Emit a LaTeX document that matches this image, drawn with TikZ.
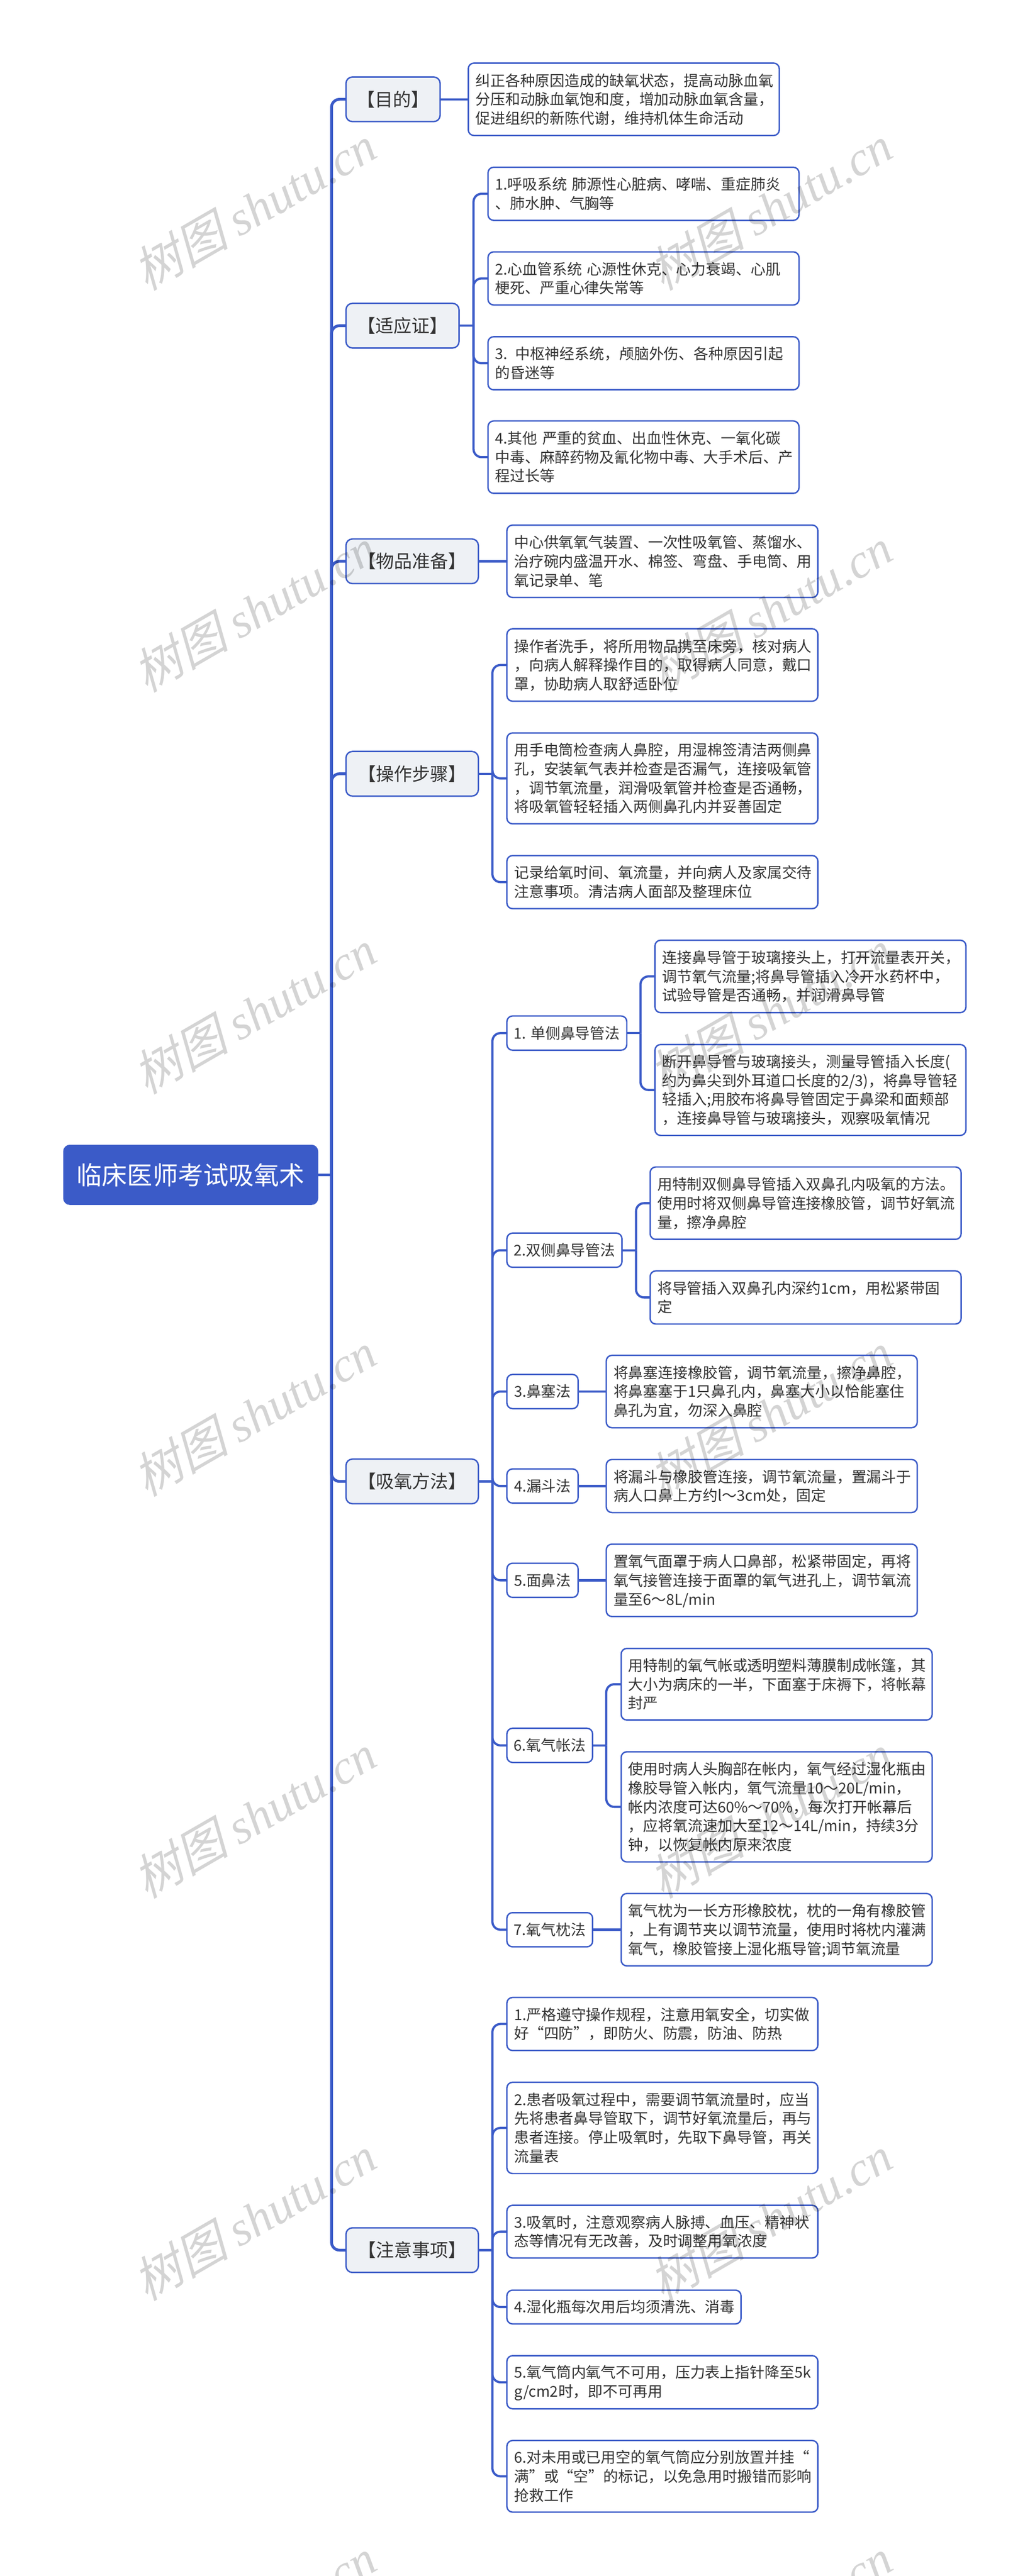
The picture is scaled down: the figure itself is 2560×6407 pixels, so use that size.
\documentclass[tikz,border=0pt]{standalone}
\usepackage{xcolor}
\definecolor{3b5bc8}{HTML}{3b5bc8}
\definecolor{eef1f5}{HTML}{eef1f5}
\definecolor{333333}{HTML}{333333}
\usepackage{fontspec}
\setmainfont{Noto Sans CJK SC}
\newfontfamily\markcjk[FakeSlant=0.25]{Noto Sans CJK SC}
\newfontfamily\marklatin{Liberation Serif}
\newcommand{\topstrut}{\leavevmode\rule{0pt}{0.97em}}
\newcommand{\bottomstrut}{\rule[-0.21em]{0pt}{0.21em}}
\tikzset{
    centred/.style={execute at begin node=\topstrut, execute at end node=\bottomstrut},
    rootbox/.style={centred, draw=3b5bc8, fill=3b5bc8, text=white, line width=2pt, rounded corners=16pt, inner sep=0pt, outer sep=0pt, font=\fontsize{63}{76}\selectfont},
    topic/.style={centred, draw=3b5bc8, fill=eef1f5, text=333333, line width=3.5pt, rounded corners=16pt, inner sep=0pt, outer sep=0pt, minimum height=111, font=\fontsize{45}{54}\selectfont},
    method/.style={centred, draw=3b5bc8, fill=white, text=333333, line width=3.5pt, rounded corners=14pt, inner sep=0pt, outer sep=0pt, minimum height=85, font=\fontsize{37}{47}\selectfont},
    leaf/.style={centred, draw=3b5bc8, fill=white, text=333333, line width=3.5pt, rounded corners=14pt, inner xsep=18pt, inner ysep=0pt, outer sep=0pt, text width=737, align=left, font=\fontsize{37}{47}\selectfont},
    trunk/.style={draw=3b5bc8, line width=7pt, rounded corners=20pt},
    link/.style={draw=3b5bc8, line width=5.5pt, rounded corners=20pt},
    stamp/.style={text=black, opacity=0.17, rotate=30, inner sep=0pt, font=\fontsize{120}{120}\selectfont},
}
\begin{document}
\begin{tikzpicture}[x=1pt, y=-1pt]
    \useasboundingbox (0, 0) rectangle (2560, 6407);

    \node (root) at (474, 2922) [rootbox, minimum width=632, minimum height=148] {临床医师考试吸氧术};

    \node (goal) at (977, 247) [topic, minimum width=234] {【目的】};
    \node (indic) at (1000.5, 810) [topic, minimum width=281] {【适应证】};
    \node (items) at (1024.5, 1396) [topic, minimum width=329] {【物品准备】};
    \node (steps) at (1024.5, 1924.5) [topic, minimum width=329] {【操作步骤】};
    \node (ways) at (1024.5, 3684.5) [topic, minimum width=329] {【吸氧方法】};
    \node (notes) at (1024.5, 5596.5) [topic, minimum width=329] {【注意事项】};

    \node (goaltext) at (1550.5, 247) [leaf, minimum height=180] {纠正各种原因造成的缺氧状态，提高动脉血氧\\分压和动脉血氧饱和度，增加动脉血氧含量，\\促进组织的新陈代谢，维持机体生命活动};

    \node (indic1) at (1599.5, 482) [leaf, minimum height=132] {1.呼吸系统 肺源性心脏病、哮喘、重症肺炎\\、肺水肿、气胸等};
    \node (indic2) at (1599.5, 692.5) [leaf, minimum height=132] {2.心血管系统 心源性休克、心力衰竭、心肌\\梗死、严重心律失常等};
    \node (indic3) at (1599.5, 903.5) [leaf, minimum height=132] {3. 中枢神经系统，颅脑外伤、各种原因引起\\的昏迷等};
    \node (indic4) at (1599.5, 1137) [leaf, minimum height=180] {4.其他 严重的贫血、出血性休克、一氧化碳\\中毒、麻醉药物及氰化物中毒、大手术后、产\\程过长等};

    \node (itemstext) at (1646.5, 1396) [leaf, minimum height=180] {中心供氧氧气装置、一次性吸氧管、蒸馏水、\\治疗碗内盛温开水、棉签、弯盘、手电筒、用\\氧记录单、笔};

    \node (step1) at (1646.5, 1654) [leaf, minimum height=180] {操作者洗手，将所用物品携至床旁，核对病人\\，向病人解释操作目的，取得病人同意，戴口\\罩，协助病人取舒适卧位};
    \node (step2) at (1646.5, 1936) [leaf, minimum height=226] {用手电筒检查病人鼻腔，用湿棉签清洁两侧鼻\\孔，安装氧气表并检查是否漏气，连接吸氧管\\，调节氧流量，润滑吸氧管并检查是否通畅，\\将吸氧管轻轻插入两侧鼻孔内并妥善固定};
    \node (step3) at (1646.5, 2194) [leaf, minimum height=132] {记录给氧时间、氧流量，并向病人及家属交待\\注意事项。清洁病人面部及整理床位};

    \node (way1) at (1409, 2569.5) [method, minimum width=298] {1. 单侧鼻导管法};
    \node (way2) at (1403, 3109.5) [method, minimum width=286] {2.双侧鼻导管法};
    \node (way3) at (1348.5, 3461) [method, minimum width=177] {3.鼻塞法};
    \node (way4) at (1348.5, 3696) [method, minimum width=177] {4.漏斗法};
    \node (way5) at (1348.5, 3930.5) [method, minimum width=177] {5.面鼻法};
    \node (way6) at (1366.5, 4341) [method, minimum width=213] {6.氧气帐法};
    \node (way7) at (1366.5, 4799.5) [method, minimum width=213] {7.氧气枕法};

    \node (single1) at (2014.5, 2428.5) [leaf, minimum height=180] {连接鼻导管于玻璃接头上，打开流量表开关，\\调节氧气流量;将鼻导管插入冷开水药杯中，\\试验导管是否通畅，并润滑鼻导管};
    \node (single2) at (2014.5, 2711) [leaf, minimum height=226] {断开鼻导管与玻璃接头，测量导管插入长度(\\约为鼻尖到外耳道口长度的2/3)，将鼻导管轻\\轻插入;用胶布将鼻导管固定于鼻梁和面颊部\\，连接鼻导管与玻璃接头，观察吸氧情况};
    \node (double1) at (2002.5, 2992.5) [leaf, minimum height=180] {用特制双侧鼻导管插入双鼻孔内吸氧的方法。\\使用时将双侧鼻导管连接橡胶管，调节好氧流\\量，擦净鼻腔};
    \node (double2) at (2002.5, 3227) [leaf, minimum height=132] {将导管插入双鼻孔内深约1cm，用松紧带固\\定};
    \node (way3text) at (1893.5, 3461) [leaf, minimum height=180] {将鼻塞连接橡胶管，调节氧流量，擦净鼻腔，\\将鼻塞塞于1只鼻孔内，鼻塞大小以恰能塞住\\鼻孔为宜，勿深入鼻腔};
    \node (way4text) at (1893.5, 3696) [leaf, minimum height=132] {将漏斗与橡胶管连接，调节氧流量，置漏斗于\\病人口鼻上方约l～3cm处，固定};
    \node (way5text) at (1893.5, 3930.5) [leaf, minimum height=180] {置氧气面罩于病人口鼻部，松紧带固定，再将\\氧气接管连接于面罩的氧气进孔上，调节氧流\\量至6～8L/min};
    \node (tent1) at (1930.5, 4189) [leaf, minimum height=178] {用特制的氧气帐或透明塑料薄膜制成帐篷，其\\大小为病床的一半，下面塞于床褥下，将帐幕\\封严};
    \node (tent2) at (1930.5, 4494) [leaf, minimum height=274] {使用时病人头胸部在帐内，氧气经过湿化瓶由\\橡胶导管入帐内，氧气流量10～20L/min，\\帐内浓度可达60\%～70\%，每次打开帐幕后\\，应将氧流速加大至12～14L/min，持续3分\\钟，以恢复帐内原来浓度};
    \node (way7text) at (1930.5, 4799.5) [leaf, minimum height=180] {氧气枕为一长方形橡胶枕，枕的一角有橡胶管\\，上有调节夹以调节流量，使用时将枕内灌满\\氧气，橡胶管接上湿化瓶导管;调节氧流量};

    \node (note1) at (1646.5, 5034) [leaf, minimum height=132] {1.严格遵守操作规程，注意用氧安全，切实做\\好“四防”，即防火、防震，防油、防热};
    \node (note2) at (1646.5, 5292.5) [leaf, minimum height=227] {2.患者吸氧过程中，需要调节氧流量时，应当\\先将患者鼻导管取下，调节好氧流量后，再与\\患者连接。停止吸氧时，先取下鼻导管，再关\\流量表};
    \node (note3) at (1646.5, 5550.5) [leaf, minimum height=131] {3.吸氧时，注意观察病人脉搏、血压、精神状\\态等情况有无改善，及时调整用氧浓度};
    \node (note4) at (1551, 5738) [leaf, text width=546, minimum height=84] {4.湿化瓶每次用后均须清洗、消毒};
    \node (note5) at (1646.5, 5925) [leaf, minimum height=132] {5.氧气筒内氧气不可用，压力表上指针降至5k\\g/cm2时，即不可再用};
    \node (note6) at (1646.5, 6159) [leaf, minimum height=178] {6.对未用或已用空的氧气筒应分别放置并挂“\\满”或“空”的标记，以免急用时搬错而影响\\抢救工作};

    \coordinate (rootbus) at (824, 2922);
    \coordinate (indicbus) at (1177, 810);
    \coordinate (stepsbus) at (1224, 1924.5);
    \coordinate (waysbus) at (1224, 3684.5);
    \coordinate (notesbus) at (1224, 5596.5);
    \coordinate (way1bus) at (1592, 2569.5);
    \coordinate (way2bus) at (1581, 3109.5);
    \coordinate (way6bus) at (1507, 4341);

    \draw[trunk] (root.east) -- (rootbus);
    \foreach \topicname in {goal, indic, items, steps, ways, notes}
        \draw[trunk] (rootbus) |- (\topicname.west);

    \draw[link] (goal.east) -- (goaltext.west);
    \draw[link] (items.east) -- (itemstext.west);
    \draw[link] (way3.east) -- (way3text.west);
    \draw[link] (way4.east) -- (way4text.west);
    \draw[link] (way5.east) -- (way5text.west);
    \draw[link] (way7.east) -- (way7text.west);

    \draw[link] (indic.east) -- (indicbus);
    \draw[link] (steps.east) -- (stepsbus);
    \draw[link] (ways.east) -- (waysbus);
    \draw[link] (notes.east) -- (notesbus);
    \draw[link] (way1.east) -- (way1bus);
    \draw[link] (way2.east) -- (way2bus);
    \draw[link] (way6.east) -- (way6bus);

    \foreach \leafname in {indic1, indic2, indic3, indic4}
        \draw[link] (indicbus) |- (\leafname.west);
    \foreach \leafname in {step1, step2, step3}
        \draw[link] (stepsbus) |- (\leafname.west);
    \foreach \leafname in {way1, way2, way3, way4, way5, way6, way7}
        \draw[link] (waysbus) |- (\leafname.west);
    \foreach \leafname in {note1, note2, note3, note4, note5, note6}
        \draw[link] (notesbus) |- (\leafname.west);
    \draw[link] (way1bus) |- (single1.west);
    \draw[link] (way1bus) |- (single2.west);
    \draw[link] (way2bus) |- (double1.west);
    \draw[link] (way2bus) |- (double2.west);
    \draw[link] (way6bus) |- (tent1.west);
    \draw[link] (way6bus) |- (tent2.west);

    \begin{scope}
        \clip (0, 0) rectangle (2560, 6407);
        \foreach \markx in {632, 1914}
            \foreach \marky in {517, 1517, ..., 6517}
                \node (mark\markx-\marky) at (\markx, \marky) [stamp] {\markcjk 树图 \marklatin\itshape shutu.cn};
    \end{scope}
\end{tikzpicture}
\end{document}
